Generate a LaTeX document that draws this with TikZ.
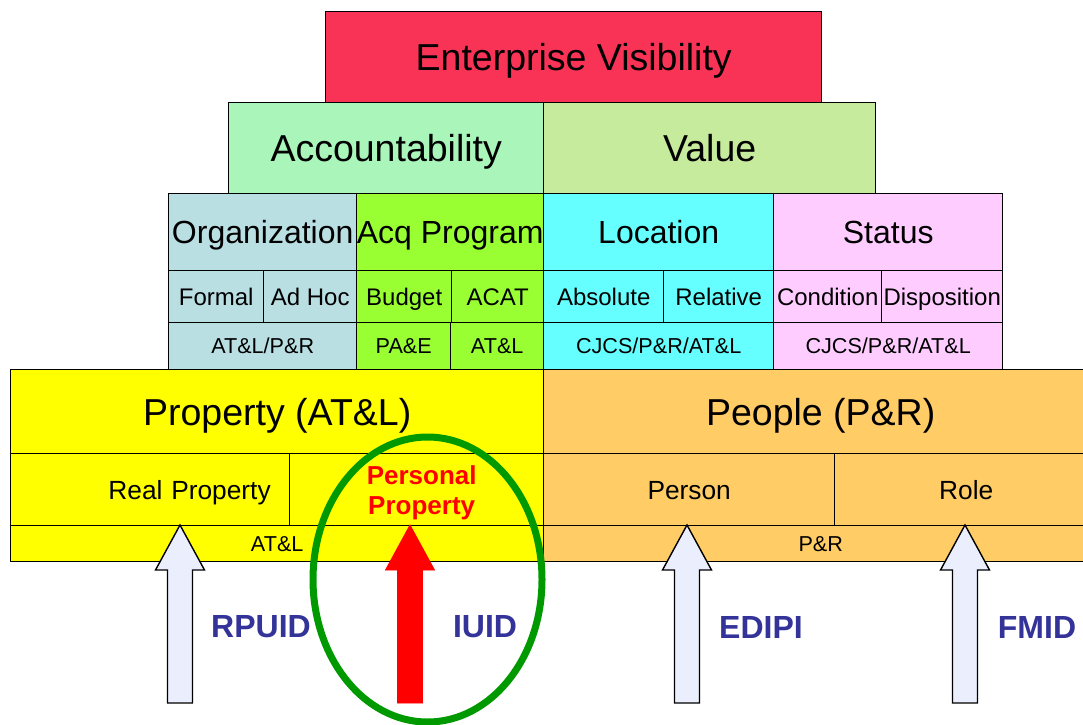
\documentclass[tikz,border=0pt]{standalone}
\usepackage{fontspec}
\setmainfont{Liberation Sans}
\definecolor{evred}{HTML}{F83355}
\definecolor{accgreen}{HTML}{A9F5BA}
\definecolor{valgreen}{HTML}{C6EB9C}
\definecolor{orgblue}{HTML}{B9DFE3}
\definecolor{acqgreen}{HTML}{99FF33}
\definecolor{loccyan}{HTML}{66FFFF}
\definecolor{statpink}{HTML}{FFCCFF}
\definecolor{propyellow}{HTML}{FFFF00}
\definecolor{peopleorange}{HTML}{FFCC66}
\definecolor{arrowfill}{HTML}{EAEEFD}
\definecolor{idblue}{HTML}{333399}
\definecolor{ringgreen}{HTML}{009900}
\tikzset{
  pics/idarrow/.style={code={
    \path[pic actions] (0,0) -- (24.5,45) -- (12.5,45) -- (12.5,178)
      -- (-12.5,178) -- (-12.5,45) -- (-24.5,45) -- cycle;
  }}
}
\begin{document}
\begin{tikzpicture}[x=1pt,y=-1pt,
  cell/.style={draw, line width=1.4pt, inner sep=0pt, anchor=north west, align=center,
    text depth=0pt},
  txtbig/.style={font=\fontsize{37.5}{40}\selectfont, text height=26.9pt},
  txtmid/.style={font=\fontsize{32}{36}\selectfont, text height=22.9pt},
  txtsub/.style={font=\fontsize{24}{26}\selectfont, text height=17.2pt},
  txtorg/.style={font=\fontsize{21.6}{24}\selectfont, text height=15.5pt},
  txtrow/.style={font=\fontsize{26.3}{30}\selectfont, text height=18.8pt},
  idlabel/.style={text=idblue, font=\fontsize{32}{36}\selectfont\bfseries}]
\useasboundingbox (0,0) rectangle (1083,724);
\clip (0,0) rectangle (1083,724);
% top of the pyramid
\node[cell, txtbig, fill=evred, minimum width=496pt, minimum height=91pt] (ev) at (325,11) {Enterprise Visibility};
\node[cell, txtbig, fill=accgreen, minimum width=315pt, minimum height=91pt] (acc) at (228,102) {Accountability};
\node[cell, txtbig, fill=valgreen, minimum width=332pt, minimum height=91pt] (val) at (543,102) {Value};
% dimensions
\node[cell, txtmid, fill=orgblue, minimum width=188pt, minimum height=77pt] (org) at (168,193) {Organization};
\node[cell, txtmid, fill=acqgreen, minimum width=187pt, minimum height=77pt] (acq) at (356,193) {Acq Program};
\node[cell, txtmid, fill=loccyan, minimum width=230pt, minimum height=77pt] (loc) at (543,193) {Location};
\node[cell, txtmid, fill=statpink, minimum width=229pt, minimum height=77pt] (stat) at (773,193) {Status};
\node[cell, txtsub, fill=orgblue, minimum width=95pt, minimum height=52pt] (formal) at (168,270) {Formal};
\node[cell, txtsub, fill=orgblue, minimum width=93pt, minimum height=52pt] (adhoc) at (263,270) {Ad Hoc};
\node[cell, txtsub, fill=acqgreen, minimum width=95pt, minimum height=52pt] (budget) at (356,270) {Budget};
\node[cell, txtsub, fill=acqgreen, minimum width=92pt, minimum height=52pt] (acat) at (451,270) {ACAT};
\node[cell, txtsub, fill=loccyan, minimum width=120pt, minimum height=52pt] (abs) at (543,270) {Absolute};
\node[cell, txtsub, fill=loccyan, minimum width=110pt, minimum height=52pt] (rel) at (663,270) {Relative};
\node[cell, txtsub, fill=statpink, minimum width=108pt, minimum height=52pt] (cond) at (773,270) {Condition};
\node[cell, txtsub, fill=statpink, minimum width=121pt, minimum height=52pt] (disp) at (881,270) {Disposition};
\node[cell, txtorg, fill=orgblue, minimum width=188pt, minimum height=47pt] (orgown) at (168,322) {AT\&L/P\&R};
\node[cell, txtorg, fill=acqgreen, minimum width=94pt, minimum height=47pt] (budown) at (356,322) {PA\&E};
\node[cell, txtorg, fill=acqgreen, minimum width=93pt, minimum height=47pt] (acatown) at (450,322) {AT\&L};
\node[cell, txtorg, fill=loccyan, minimum width=230pt, minimum height=47pt] (locown) at (543,322) {CJCS/P\&R/AT\&L};
\node[cell, txtorg, fill=statpink, minimum width=229pt, minimum height=47pt] (statown) at (773,322) {CJCS/P\&R/AT\&L};
% foundation
\node[cell, txtbig, fill=propyellow, minimum width=533pt, minimum height=84pt] (prop) at (10,369) {Property (AT\&L)};
\node[cell, txtbig, fill=peopleorange, minimum width=554pt, minimum height=84pt] (people) at (543,369) {People (P\&R)};
\node[cell, txtrow, fill=propyellow, minimum width=279pt, minimum height=72pt, text width=241pt, align=right] (real) at (10,453) {Real Property};
\node[cell, fill=propyellow, minimum width=254pt, minimum height=72pt] (pers) at (289,453) {};
\node[text=red, align=center, font=\fontsize{26}{30}\selectfont\bfseries] (perstext) at ([xshift=5pt, yshift=-3pt]pers.center) {Personal\\Property};
\node[cell, txtrow, fill=peopleorange, minimum width=291pt, minimum height=72pt] (person) at (543,453) {Person};
\node[cell, txtrow, fill=peopleorange, minimum width=263pt, minimum height=72pt] (role) at (834,453) {Role};
\node[cell, txtorg, fill=propyellow, minimum width=533pt, minimum height=36pt] (propown) at (10,525) {AT\&L};
\node[cell, txtorg, fill=peopleorange, minimum width=554pt, minimum height=36pt] (peopleown) at (543,525) {P\&R};
% identifiers
\coordinate (rpuid tip) at (180,525);
\coordinate (iuid tip) at (410,525);
\coordinate (edipi tip) at (687,525);
\coordinate (fmid tip) at (965,525);
\pic[draw=black, fill=arrowfill, line width=1.4pt] at (rpuid tip) {idarrow};
\pic[draw=red, fill=red, line width=0.8pt] at (iuid tip) {idarrow};
\pic[draw=black, fill=arrowfill, line width=1.4pt] at (edipi tip) {idarrow};
\pic[draw=black, fill=arrowfill, line width=1.4pt] at (fmid tip) {idarrow};
\node[idlabel] (rpuid) at (261,627) {RPUID};
\node[idlabel] (iuid) at (485,627) {IUID};
\node[idlabel] (edipi) at (761,627) {EDIPI};
\node[idlabel] (fmid) at (1037,627) {FMID};
\draw[ringgreen, line width=7pt] (427.5,579.5) ellipse [x radius=114.5pt, y radius=142.5pt];
\end{tikzpicture}
\end{document}
